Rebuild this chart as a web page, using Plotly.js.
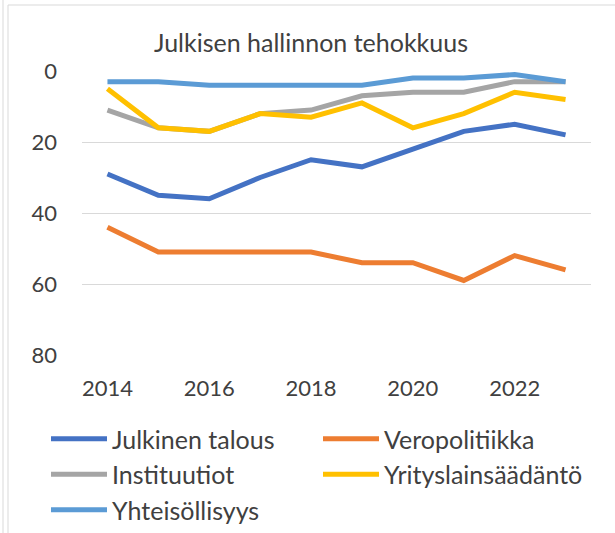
<!DOCTYPE html>
<html>
<head>
<meta charset="utf-8">
<script src="https://cdn.plot.ly/plotly-3.0.1.min.js"></script>
<style>
  body { margin: 0; background: #fff; }
  #kaavio { width: 615px; height: 533px; }
</style>
</head>
<body>
<div id="kaavio"></div>
<script>
// vuodet ja sijoitukset (pienempi = parempi)
var vuodet = [2014, 2015, 2016, 2017, 2018, 2019, 2020, 2021, 2022, 2023];

var julkinenTalous = [29, 35, 36, 30, 25, 27, 22, 17, 15, 18];
var veropolitiikka = [44, 51, 51, 51, 51, 54, 54, 59, 52, 56];
var instituutiot = [11, 16, 17, 12, 11, 7, 6, 6, 3, 3];
var yrityslainsaadanto = [5, 16, 17, 12, 13, 9, 16, 12, 6, 8];
var yhteisollisyys = [3, 3, 4, 4, 4, 4, 2, 2, 1, 3];

var nimet = ['Julkinen talous', 'Veropolitiikka', 'Instituutiot', 'Yrityslainsäädäntö', 'Yhteisöllisyys'];
var varit = ['#4472C4', '#ED7D31', '#A5A5A5', '#FFC000', '#5B9BD5'];
var sarjat = [julkinenTalous, veropolitiikka, instituutiot, yrityslainsaadanto, yhteisollisyys];

var data = [];
for (let i = 0; i < sarjat.length; i++) {
    data.push({
        x: vuodet,
        y: sarjat[i],
        name: nimet[i],
        mode: 'lines',
        type: 'scatter',
        line: { color: varit[i], width: 5 },
        hoverinfo: 'skip'
    });
}

// pikselit -> paperikoordinaatit (piirtoalue 82..591 x 71..355)
function px(x) { return (x - 82) / 509; }
function py(y) { return (355 - y) / 284; }

var layout = {
    width: 615,
    height: 533,
    margin: { l: 82, r: 24, t: 71, b: 178, autoexpand: false },
    paper_bgcolor: '#fff',
    plot_bgcolor: '#fff',
    font: { family: 'Lato, "Open Sans", sans-serif', color: '#404040', size: 22 },
    title: {
        text: 'Julkisen hallinnon tehokkuus',
        font: { size: 25, color: '#404040' },
        xref: 'container', x: 311 / 615, xanchor: 'center',
        y: 1 - 43 / 533, yanchor: 'middle'
    },
    xaxis: {
        range: [2013.5, 2023.5],
        tickvals: [2014, 2016, 2018, 2020, 2022],
        ticktext: ['2014', '2016', '2018', '2020', '2022'],
        showgrid: false,
        zeroline: false,
        showline: false,
        ticks: '',
        ticklabelstandoff: 18,
        tickfont: { size: 22, color: '#404040' }
    },
    yaxis: {
        range: [80, 0],
        tickvals: [0, 20, 40, 60, 80],
        showgrid: true,
        gridcolor: '#D9D9D9',
        gridwidth: 1,
        zeroline: false,
        showline: false,
        ticks: '',
        ticklabelstandoff: 24,
        tickfont: { size: 22, color: '#404040' }
    },
    showlegend: true,
    legend: {
        orientation: 'h',
        x: px(46), xanchor: 'left',
        y: py(416), yanchor: 'top',
        entrywidth: 201,
        entrywidthmode: 'pixels',
        traceorder: 'normal',
        font: { size: 25, color: '#404040' },
        itemwidth: 56,
        tracegroupgap: 0
    },
    shapes: [
        {
            type: 'rect', xref: 'paper', yref: 'paper',
            x0: px(8), x1: px(640), y0: py(545), y1: py(5),
            line: { color: '#D9D9D9', width: 1 }
        },
        {
            type: 'line', xref: 'paper', yref: 'paper',
            x0: px(3), x1: px(3), y0: py(545), y1: py(-5),
            line: { color: '#D9D9D9', width: 1 }
        }
    ]
};

Plotly.newPlot('kaavio', data, layout, { staticPlot: true });
</script>
</body>
</html>
